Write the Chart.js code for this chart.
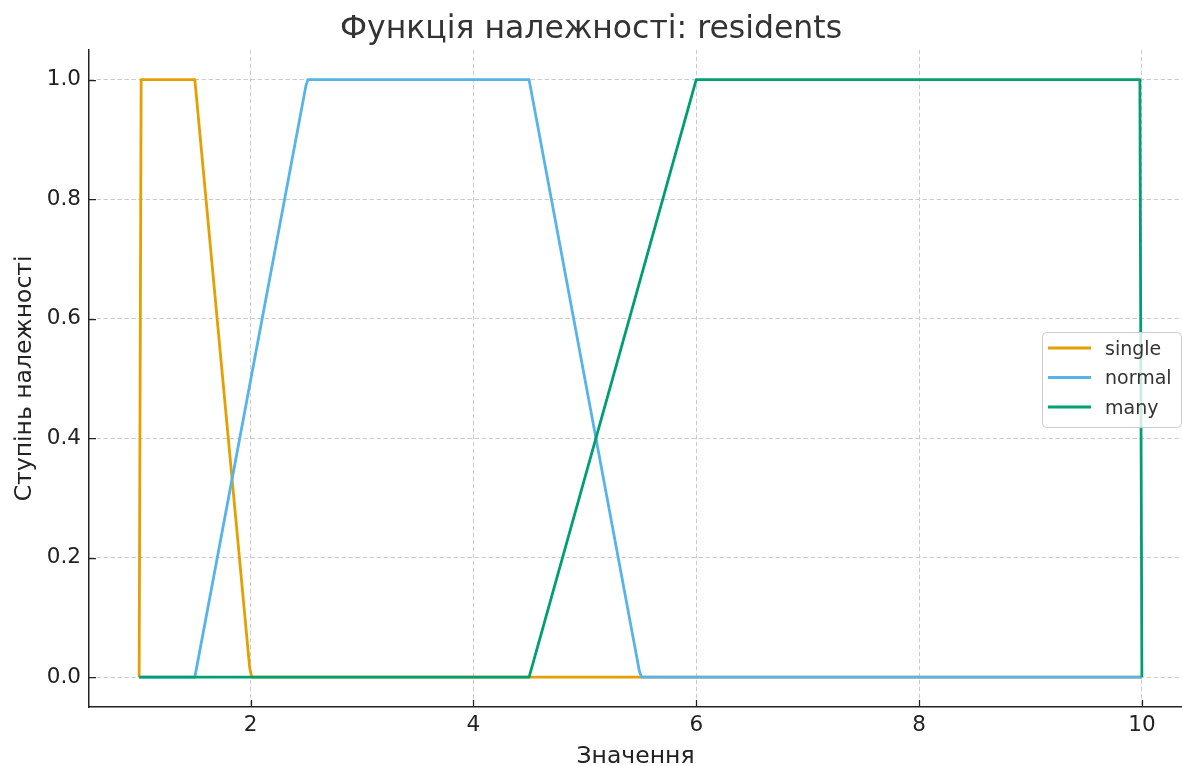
<!DOCTYPE html>
<html>
<head>
<meta charset="utf-8">
<script src="https://cdn.jsdelivr.net/npm/chart.js@4"></script>
<style>
  html, body { margin: 0; padding: 0; background: #fff; }
  #chart { display: block; }
</style>
</head>
<body>
<canvas id="chart" width="1182" height="766"></canvas>
<script>
// membership function breakpoints
const singleX = [1, 1.018, 1.5, 1.992, 2.01, 10];
const singleY = [0, 1, 1, 0.016, 0, 0];
const normalX = [1, 1.5, 2.497, 2.515, 4.5, 5.49, 5.51, 10];
const normalY = [0, 0, 0.99, 1, 1, 0.01, 0, 0];
const manyX = [1, 4.5, 6, 9.982, 10];
const manyY = [0, 0, 1, 1, 0];

const xTicks = [2, 4, 6, 8, 10];
const yTicks = [0, 0.2, 0.4, 0.6, 0.8, 1.0];

const FONT = "'DejaVu Sans', sans-serif";

function toPoints(xs, ys) {
  return xs.map((x, i) => ({ x: x, y: ys[i] }));
}

// ticks pointing into the plot, like the original
const innerTicks = {
  id: "innerTicks",
  afterDraw(chart) {
    const ctx = chart.ctx;
    const area = chart.chartArea;
    const xs = chart.scales.x;
    const ys = chart.scales.y;
    ctx.save();
    ctx.strokeStyle = "#222";
    ctx.lineWidth = 1.25;
    ctx.beginPath();
    xTicks.forEach((v) => {
      const px = Math.round(xs.getPixelForValue(v)) + 0.5;
      ctx.moveTo(px, area.bottom);
      ctx.lineTo(px, area.bottom - 7);
    });
    yTicks.forEach((v) => {
      const py = Math.round(ys.getPixelForValue(v)) + 0.5;
      ctx.moveTo(area.left, py);
      ctx.lineTo(area.left + 7, py);
    });
    ctx.stroke();
    ctx.restore();
  },
};

// legend box at the right edge, drawn by hand
const boxLegend = {
  id: "boxLegend",
  afterDraw(chart) {
    const ctx = chart.ctx;
    const left = 1042, top = 332, w = 139, h = 95;
    ctx.save();
    ctx.fillStyle = "rgba(255,255,255,0.8)";
    ctx.strokeStyle = "#cccccc";
    ctx.lineWidth = 1;
    ctx.beginPath();
    ctx.roundRect(left + 0.5, top + 0.5, w, h, 4);
    ctx.fill();
    ctx.stroke();
    ctx.font = "19px " + FONT;
    ctx.textBaseline = "middle";
    chart.data.datasets.forEach((ds, i) => {
      const y = 348 + i * 29.5;
      ctx.strokeStyle = ds.borderColor;
      ctx.lineWidth = 3;
      ctx.beginPath();
      ctx.moveTo(1048, y);
      ctx.lineTo(1091, y);
      ctx.stroke();
      ctx.fillStyle = "#333";
      ctx.fillText(ds.label, 1105, y + 2);
    });
    ctx.restore();
  },
};

new Chart(document.getElementById("chart"), {
  type: "line",
  data: {
    datasets: [
      { label: "single", data: toPoints(singleX, singleY), borderColor: "#E69F00", order: 2 },
      { label: "normal", data: toPoints(normalX, normalY), borderColor: "#56B4E9", order: 1 },
      { label: "many", data: toPoints(manyX, manyY), borderColor: "#009E73", order: 0 },
    ],
  },
  plugins: [innerTicks, boxLegend],
  options: {
    responsive: false,
    animation: false,
    layout: { padding: 0 },
    elements: {
      line: { borderWidth: 2.8, tension: 0, fill: false, borderJoinStyle: "round" },
      point: { radius: 0 },
    },
    plugins: {
      legend: { display: false },
      tooltip: { enabled: false },
      title: {
        display: true,
        text: "Функція належності: residents",
        color: "#333",
        font: { family: FONT, size: 31.5, weight: "normal" },
        padding: { top: 11, bottom: 1 },
      },
    },
    scales: {
      x: {
        type: "linear",
        min: 0.55,
        max: 10.36,
        afterBuildTicks: (scale) => {
          scale.ticks = xTicks.map((v) => ({ value: v }));
        },
        afterFit: (scale) => {
          scale.height = 59;
        },
        ticks: {
          color: "#222",
          font: { family: FONT, size: 21.5 },
          padding: 6,
          maxRotation: 0,
          callback: (v) => String(v),
        },
        grid: {
          color: "#cccccc",
          lineWidth: 1,
          drawTicks: false,
        },
        border: { display: true, color: "#222", width: 1.5, dash: [4.5, 2.5] },
        title: {
          display: true,
          text: "Значення",
          color: "#222",
          font: { family: FONT, size: 23.5, lineHeight: 0.75 },
          padding: { top: 0, bottom: 0 },
        },
      },
      y: {
        type: "linear",
        min: -0.05,
        max: 1.05,
        afterBuildTicks: (scale) => {
          scale.ticks = yTicks.map((v) => ({ value: v }));
        },
        afterFit: (scale) => {
          scale.width = 89;
        },
        ticks: {
          color: "#222",
          font: { family: FONT, size: 21.5 },
          padding: 8,
          callback: (v) => v.toFixed(1),
        },
        grid: {
          color: "#cccccc",
          lineWidth: 1,
          drawTicks: false,
        },
        border: { display: true, color: "#222", width: 1.5, dash: [4.5, 2.5] },
        title: {
          display: true,
          text: "Ступінь належності",
          color: "#222",
          font: { family: FONT, size: 23.5, lineHeight: 1 },
          padding: { top: 13, bottom: 0 },
        },
      },
    },
  },
});
</script>
</body>
</html>
